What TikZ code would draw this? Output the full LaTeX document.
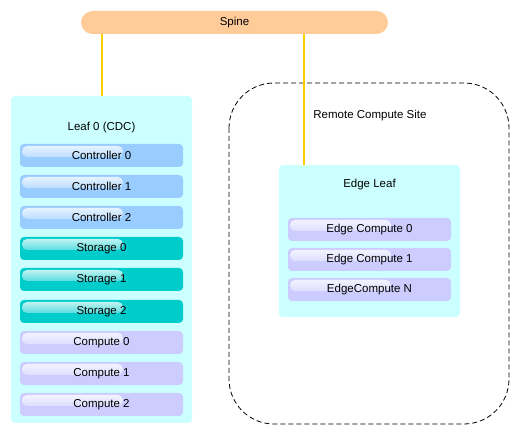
\documentclass[tikz,border=0pt]{standalone}
\usepackage{fontspec}
\setmainfont{Liberation Sans}
\usepackage{tikz}
\usetikzlibrary{positioning}

\definecolor{spinecol}{HTML}{FFCC99}
\definecolor{linkcol}{HTML}{FFCC00}
\definecolor{leafcol}{HTML}{CCFFFF}
\definecolor{ctrlcol}{HTML}{99CCFF}
\definecolor{storcol}{HTML}{00CCCC}
\definecolor{compcol}{HTML}{CCCCFF}

\tikzset{
  lbl/.style={font=\fontsize{11.5}{13}\selectfont},
  leafbox/.style={fill=leafcol, rounded corners=4pt, inner sep=0pt},
  unitbox/.style={rounded corners=4pt, minimum width=163pt, minimum height=23pt,
    inner sep=0pt, lbl},
  gloss/.style={top color=white!75!#1, bottom color=white!35!#1, rounded corners=5pt},
  link/.style={draw=linkcol, line width=2pt}
}

\begin{document}
\begin{tikzpicture}[x=1pt,y=-1pt]
    \useasboundingbox (0,0) rectangle (520,435);

    % spine
    \node (spine) [fill=spinecol, rounded corners=11.5pt, minimum width=307pt,
      minimum height=23pt, inner sep=0pt, lbl] at (234.5,22.5) {Spine};

    % leaf 0 with its hosts
    \node (leaf0) [leafbox, minimum width=181pt, minimum height=327pt] at (101.5,259.5) {};
    \node (leaf0lbl) [lbl] at (101.5,128) {Leaf 0 (CDC)};

    % remote site
    \draw[dash pattern=on 5pt off 3pt, line width=0.8pt, rounded corners=45pt]
      (229,83) rectangle (509,424);
    \node (sitelbl) [lbl] at (370,116) {Remote Compute Site};

    \node (edgeleaf) [leafbox, minimum width=181pt, minimum height=152pt] at (369.5,241) {};
    \node (edgelbl) [lbl] at (369.5,185) {Edge Leaf};

    % uplinks
    \coordinate (l0top) at (leaf0.north);
    \coordinate (eltop) at ([xshift=25pt]edgeleaf.north west);
    \draw[link] (spine.south -| l0top) -- (l0top);
    \draw[link] (spine.south -| eltop) -- (eltop);

    \foreach \name/\txt/\col/\top in {
        ctrl0/Controller 0/ctrlcol/144, ctrl1/Controller 1/ctrlcol/175,
        ctrl2/Controller 2/ctrlcol/206, stor0/Storage 0/storcol/237,
        stor1/Storage 1/storcol/268, stor2/Storage 2/storcol/300,
        comp0/Compute 0/compcol/331, comp1/Compute 1/compcol/362,
        comp2/Compute 2/compcol/393}{
      \node (\name) [unitbox, fill=\col] at (101.5,\top+11.5) {};
      \shade[gloss=\col] (22,\top+2) rectangle (123,\top+13);
      \node [lbl] at (\name) {\txt};
    }

    \foreach \name/\txt/\top in {
        edge0/Edge Compute 0/218, edge1/Edge Compute 1/248, edgeN/EdgeCompute N/278}{
      \node (\name) [unitbox, fill=compcol] at (369.5,\top+11.5) {};
      \shade[gloss=compcol] (290,\top+2) rectangle (391,\top+13);
      \node [lbl] at (\name) {\txt};
    }
\end{tikzpicture}
\end{document}
